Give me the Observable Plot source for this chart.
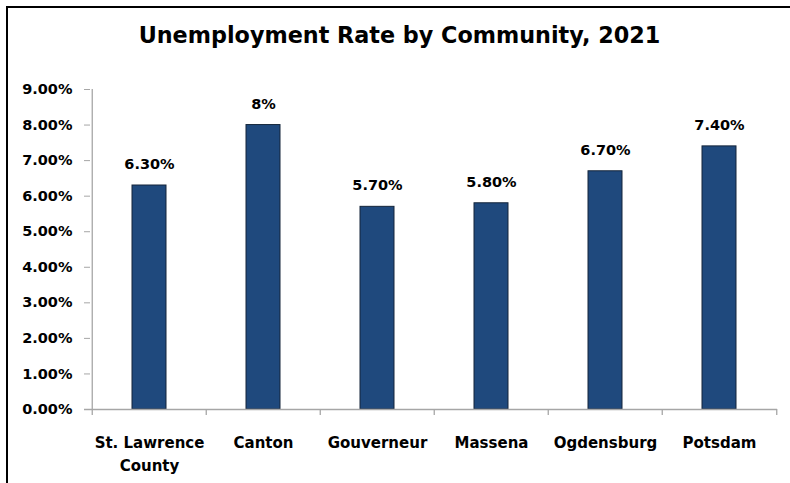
<!DOCTYPE html>
<html>
<head>
<meta charset="utf-8">
<script src="https://cdn.jsdelivr.net/npm/d3@7"></script>
<script src="https://cdn.jsdelivr.net/npm/@observablehq/plot@0.6"></script>
<style>
  html, body { margin: 0; padding: 0; background: #fff; overflow: hidden; }
  #wrap { position: relative; width: 790px; height: 483px; overflow: hidden; }
  #frameline { position: absolute; left: 6px; top: 6px; width: 800px; height: 500px;
    border-left: 2px solid #000; border-top: 2px solid #000; pointer-events: none; }
  #title { height: 70px; box-sizing: border-box; padding-top: 22px; padding-left: 9px; text-align: center;
    font-family: "DejaVu Sans", sans-serif; font-weight: bold; font-size: 22.3px; line-height: 26px; color: #000; }
  #chart svg { display: block; }
</style>
</head>
<body>
<div id="wrap">
  <div id="title">Unemployment Rate by Community, 2021</div>
  <div id="chart"></div>
  <div id="frameline"></div>
</div>
<script>
const categories = ["St. Lawrence\nCounty", "Canton", "Gouverneur", "Massena", "Ogdensburg", "Potsdam"];
const rates = [0.063, 0.08, 0.057, 0.058, 0.067, 0.074];
const valueLabels = ["6.30%", "8%", "5.70%", "5.80%", "6.70%", "7.40%"];
const yTicks = [0, 0.01, 0.02, 0.03, 0.04, 0.05, 0.06, 0.07, 0.08, 0.09];

const data = categories.map((c, i) => ({category: c, rate: rates[i], label: valueLabels[i]}));

const W = 790, H = 413, ML = 90, MR = 13, MT = 19, MB = 74;
const step = (W - ML - MR) / categories.length;
const axisColor = "#a6a6a6";
const font = "DejaVu Sans, sans-serif";

const chart = Plot.plot({
  width: W,
  height: H,
  marginLeft: ML,
  marginRight: MR,
  marginTop: MT,
  marginBottom: MB,
  style: {fontFamily: font, fontWeight: "bold", color: "#000", background: "#fff"},
  x: {type: "band", domain: categories, padding: 0},
  y: {domain: [0, 0.09]},
  marks: [
    Plot.barY(data, {x: "category", y: "rate", fill: "#1F497D", stroke: "#14253a", strokeWidth: 1, insetLeft: 40, insetRight: 40}),
    Plot.ruleY([0], {stroke: axisColor, strokeWidth: 1.3, insetLeft: -6}),
    Plot.axisY({ticks: yTicks, tickFormat: ".2%", tickSize: 6, tickPadding: 12, stroke: axisColor, fontSize: 14.5, fontWeight: "bold", fill: "#000", label: null}),
    Plot.axisX({ticks: [], label: null, tickSize: 0}),
    Plot.ruleX(categories, {x: d => d, y1: 0, y2: 0, dx: -step / 2, insetBottom: -6, stroke: axisColor, strokeWidth: 1.3}),
    Plot.ruleX(categories.slice(-1), {x: d => d, y1: 0, y2: 0, dx: step / 2, insetBottom: -6, stroke: axisColor, strokeWidth: 1.3}),
    Plot.ruleX(categories.slice(0, 1), {x: d => d, y1: 0, y2: 0.09, dx: -step / 2, stroke: axisColor, strokeWidth: 1.3}),
    Plot.text(categories, {x: d => d, frameAnchor: "bottom", lineAnchor: "top", dy: 22, lineHeight: 1.55, fontSize: 15, fontWeight: "bold", fill: "#000"}),
    Plot.text(data, {x: "category", y: "rate", text: "label", lineAnchor: "middle", dy: -21, fontSize: 14.5, fontWeight: "bold", fill: "#000"})
  ]
});
document.getElementById("chart").appendChild(chart);
</script>
</body>
</html>
